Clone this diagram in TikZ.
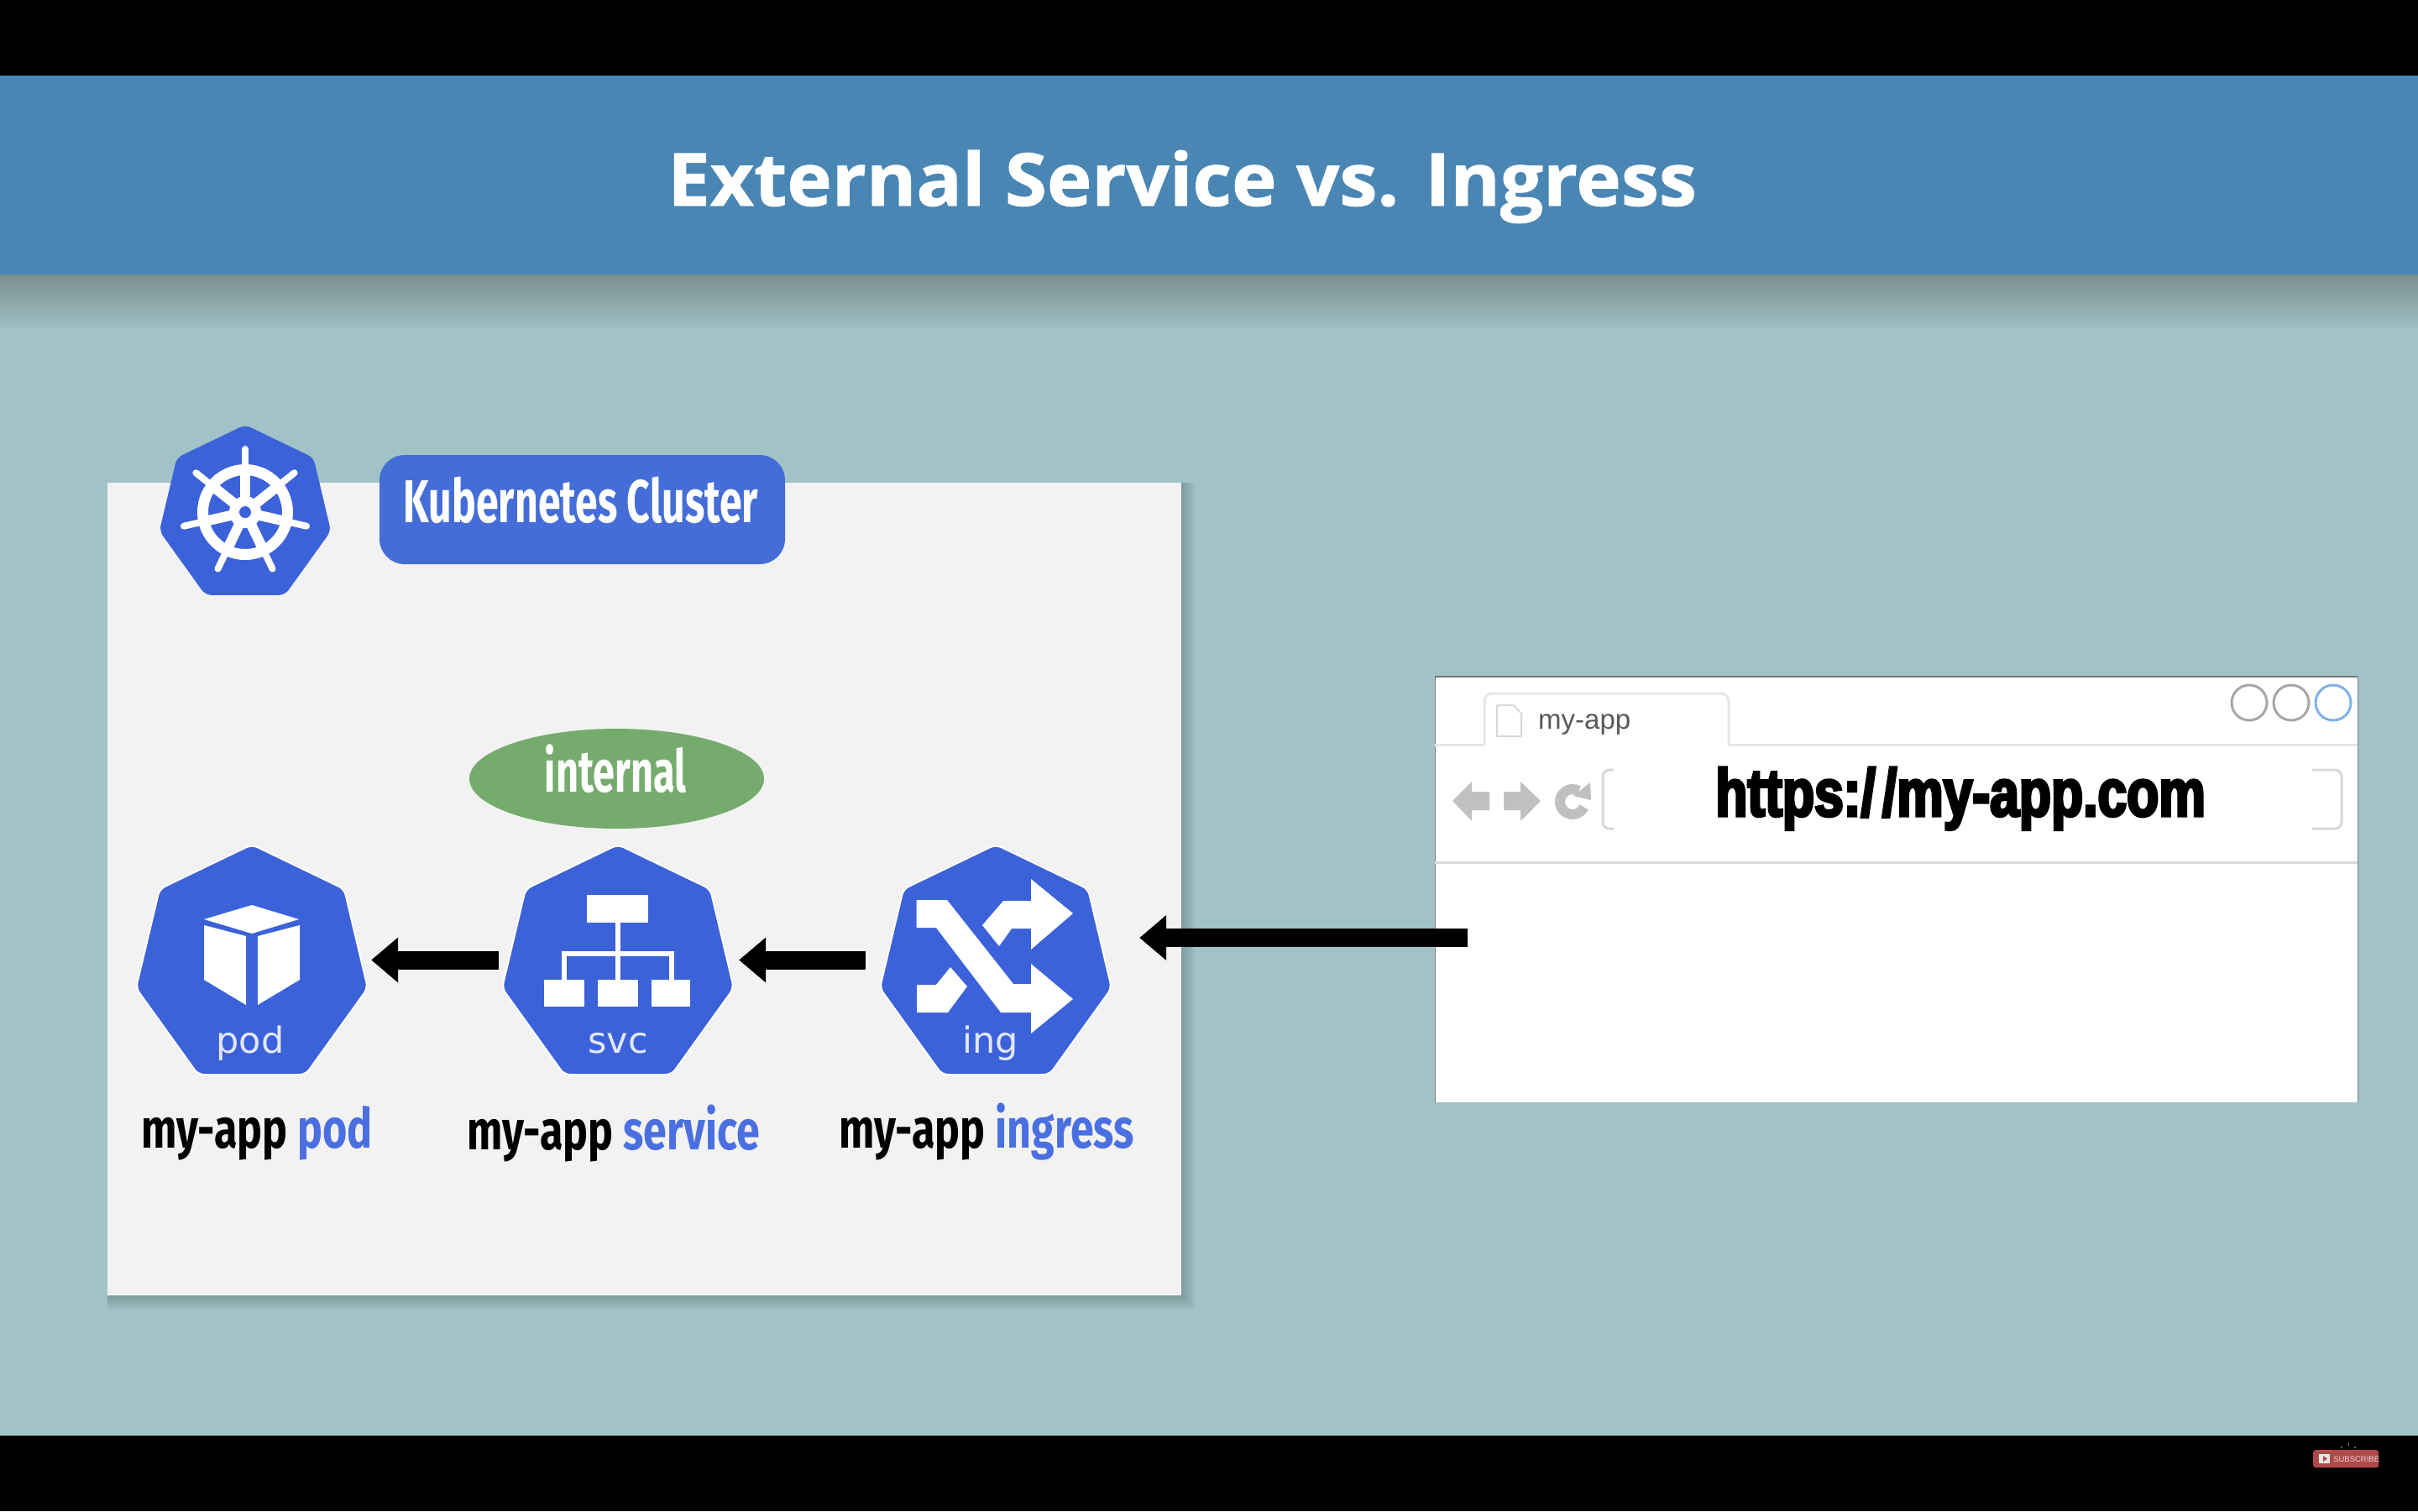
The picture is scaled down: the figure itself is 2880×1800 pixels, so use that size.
\documentclass[tikz,border=0pt]{standalone}
\usepackage{fontspec}
\usetikzlibrary{arrows.meta,shapes.geometric,positioning}
\newfontfamily\titlefont[FakeStretch=1.04,FakeBold=1]{Open Sans}
\newfontfamily\dinfont[FakeStretch=0.76]{Fira Sans}
\newfontfamily\tagfont[FakeStretch=0.67]{Fira Sans}
\newfontfamily\iconfont{DejaVu Sans}
\newfontfamily\tabfont{Liberation Sans}
\newfontfamily\urlfont[FakeStretch=0.78,FakeBold=4]{Liberation Sans}
\definecolor{slidebg}{HTML}{A1C3C7}
\definecolor{banddark}{HTML}{7B8E90}
\definecolor{bandblue}{HTML}{4A86B4}
\definecolor{kubeblue}{HTML}{3C62D9}
\definecolor{tagblue}{HTML}{446DD8}
\definecolor{wordblue}{HTML}{4A6FE0}
\definecolor{tagnote}{HTML}{75AC6D}
\definecolor{panelgrey}{HTML}{F2F2F2}
\definecolor{chromeline}{HTML}{D8D8D8}
\definecolor{chromefaint}{HTML}{E6E6E6}
\definecolor{chromeicon}{HTML}{C0C0C0}
\definecolor{chromeblue}{HTML}{7FB2E5}
\definecolor{subred}{HTML}{B04A4A}
\newcommand{\fsize}[1]{\fontsize{#1}{#1}\selectfont}
\newcommand{\heptagon}[4]{\draw [heptshape,#4,shift={(#1,#2)},scale=#3] (0,0) -- (110,53) -- (138,171) -- (64,274) -- (-64,274) -- (-138,171) -- (-110,53) -- cycle;}
\begin{document}
\begin{tikzpicture}[x=1pt,y=-1pt,
every node/.style={inner sep=0pt},
heptshape/.style={fill=kubeblue,draw=white,line width=2pt,rounded corners=7pt},
heptnode/.style={minimum width=272pt,minimum height=273pt},
hepttext/.style={anchor=base,font=\iconfont\fsize{43},text=white!85!kubeblue},
applabel/.style={anchor=base west,font=\dinfont\bfseries\fsize{66}},
flowarrow/.style={-{Triangle[length=32pt,width=52pt]},line width=22pt,black},
chrome/.style={draw=chromeline,line width=3pt},
iconfill/.style={fill=white}]
\useasboundingbox (0,0) rectangle (2880,1800);
\fill [black] (0,0) rectangle (2880,1800);
\fill [slidebg] (0,327) rectangle (2880,1710);
\shade [top color=banddark,bottom color=slidebg] (0,327) rectangle (2880,395);
\fill [bandblue] (0,90) rectangle (2880,327);
\node (title) [anchor=base,text=white,font=\titlefont\bfseries\fsize{87}] at (1408,245) {External Service vs. Ingress};
\foreach \d in {1,3,...,17}
\fill [black,opacity=0.022] (128,575) rectangle (1407+\d,1543+\d);
\fill [panelgrey] (128,575) rectangle (1407,1543);
\heptagon{292}{506}{0.74}{draw=none}
\draw [white,line width=13pt] (292,610) circle (50.5);
\foreach \a in {0,1,...,6}
{
\draw [white,line width=12pt,shift={(292,610)}] (0,0) -- (-90+\a*360/7:50);
\draw [white,line width=8pt,line cap=round,shift={(292,610)}] (-90+\a*360/7:50) -- (-90+\a*360/7:75);
}
\fill [white] (292,610) circle (19);
\fill [kubeblue] (292,610) circle (7);
\node (clustertag) [draw=none,fill=tagblue,rounded corners=30pt,minimum width=483pt,minimum height=130pt] at (693.5,607) {};
\node (clustertext) [anchor=base,text=white,font=\tagfont\bfseries\fsize{72}] at (692,622) {Kubernetes Cluster};
\node (internaltag) [ellipse,fill=tagnote,minimum width=351pt,minimum height=119pt] at (734.5,927.5) {};
\node (internaltext) [anchor=base,text=white,font=\tagfont\bfseries\fsize{70}] at (733,943) {internal};
\heptagon{300}{1006}{1}{}
\heptagon{736}{1006}{1}{}
\heptagon{1186}{1006}{1}{}
\node (pod) [heptnode] at (300,1143.5) {};
\node (svc) [heptnode] at (736,1143.5) {};
\node (ing) [heptnode] at (1186,1143.5) {};
\fill [iconfill] (300,1078) -- (356,1095) -- (300,1112) -- (243,1095) -- cycle;
\fill [iconfill] (243,1102) -- (293,1115) -- (293,1197) -- (243,1167) -- cycle;
\fill [iconfill] (357,1102) -- (307,1115) -- (307,1197) -- (357,1167) -- cycle;
\node (podtext) [hepttext] at (298,1254) {pod};
\fill [iconfill] (698.5,1066) rectangle (772,1099);
\fill [iconfill] (648,1167) rectangle (696,1199);
\fill [iconfill] (712,1167) rectangle (760,1199);
\fill [iconfill] (776,1167) rectangle (822,1199);
\draw [white,line width=6pt] (736,1099) -- (736,1167);
\draw [white,line width=6pt] (672,1167) -- (672,1136) -- (800,1136) -- (800,1167);
\node (svctext) [hepttext] at (736,1254) {svc};
\fill [iconfill] (1091.7,1072) -- (1128,1072) -- (1207,1172) -- (1228,1172) -- (1228,1148) -- (1278,1190) -- (1228,1231) -- (1228,1206) -- (1192,1206) -- (1115,1105) -- (1091.7,1105) -- cycle;
\fill [iconfill] (1228,1047) -- (1278,1088) -- (1228,1131) -- (1228,1106) -- (1205,1106) -- (1190,1127) -- (1170,1102) -- (1195,1073) -- (1228,1073) -- cycle;
\fill [iconfill] (1092,1173) -- (1115,1173) -- (1132,1152) -- (1152,1175) -- (1129,1206) -- (1092,1206) -- cycle;
\node (ingtext) [hepttext] at (1180,1254) {ing};
\draw [flowarrow,shorten >=6pt,shorten <=6pt] (svc.west) -- (pod.east);
\draw [flowarrow,shorten >=8pt,shorten <=19pt] (ing.west) -- (svc.east);
\node (podlabel) [applabel] at (168,1367) {my-app \textcolor{wordblue}{pod}};
\node (svclabel) [applabel] at (556,1369) {my-app \textcolor{wordblue}{service}};
\node (inglabel) [applabel] at (999,1367) {my-app \textcolor{wordblue}{ingress}};
\node (browser) [anchor=north west,fill=white,minimum width=1099pt,minimum height=507pt] at (1709,806) {};
\draw [black!50,line width=1pt] (browser.south west) -- (browser.north west) -- (browser.north east) -- (browser.south east);
\draw [black!55,line width=2pt] (browser.north west) -- (browser.north east);
\draw [chrome,draw=chromefaint] (1709,887) -- (1768,887);
\draw [chrome,draw=chromefaint] (2059,887) -- (2808,887);
\draw [chrome,draw=chromefaint,rounded corners=9pt] (1768,887) -- (1768,826) -- (2059,826) -- (2059,887);
\draw [chrome] (1709,1027) -- (2808,1027);
\draw [chrome,line width=2pt,line join=round] (1783,840) -- (1803,840) -- (1812,850) -- (1812,877) -- (1783,877) -- cycle;
\node (tabtext) [anchor=base west,text=black!65,font=\tabfont\fsize{33}] at (1832,868) {my-app};
\draw [black!35,line width=3pt] (2679,837) circle (21);
\draw [black!35,line width=3pt] (2729,837) circle (21);
\draw [chromeblue,line width=3pt] (2779,837) circle (21);
\fill [chromeicon] (1730,954) -- (1753,931) -- (1753,943) -- (1774,943) -- (1774,965) -- (1753,965) -- (1753,978) -- cycle;
\fill [chromeicon] (1835,954) -- (1811,931) -- (1811,943) -- (1791,943) -- (1791,965) -- (1811,965) -- (1811,978) -- cycle;
\draw [chromeicon,line width=12pt] (1873,955) ++(25:15) arc [start angle=25,end angle=300,radius=15];
\fill [chromeicon] (1894,932) -- (1895,953) -- (1874,948) -- cycle;
\draw [chrome,rounded corners=8pt] (1922,917) -- (1909,917) -- (1909,987) -- (1922,987);
\draw [chrome,rounded corners=8pt] (2754,917) -- (2789,917) -- (2789,987) -- (2754,987);
\node (urltext) [anchor=base,font=\urlfont\bfseries\fsize{80}] at (2335,972) {https:/\kern8pt/my-app.com};
\coordinate (reqstart) at (1748,1117);
\draw [flowarrow,shorten >=35pt] (reqstart) -- (ing.east |- reqstart);
\node (subbtn) [anchor=north west,fill=subred,rounded corners=3pt,minimum width=78pt,minimum height=21pt] at (2755,1727) {};
\fill [white!80!gray] (2762,1732) rectangle (2775,1743);
\fill [subred] (2767,1734) -- (2772,1737.5) -- (2767,1741) -- cycle;
\node (subtext) [anchor=west,text=white!75!subred,font=\tabfont\fsize{9.5}] at (2779,1738) {SUBSCRIBE};
\draw [gray,line width=1pt] (2797,1719) -- (2797,1722);
\draw [gray,line width=1pt] (2788,1723) -- (2790,1725);
\draw [gray,line width=1pt] (2806,1723) -- (2804,1725);
\end{tikzpicture}
\end{document}
